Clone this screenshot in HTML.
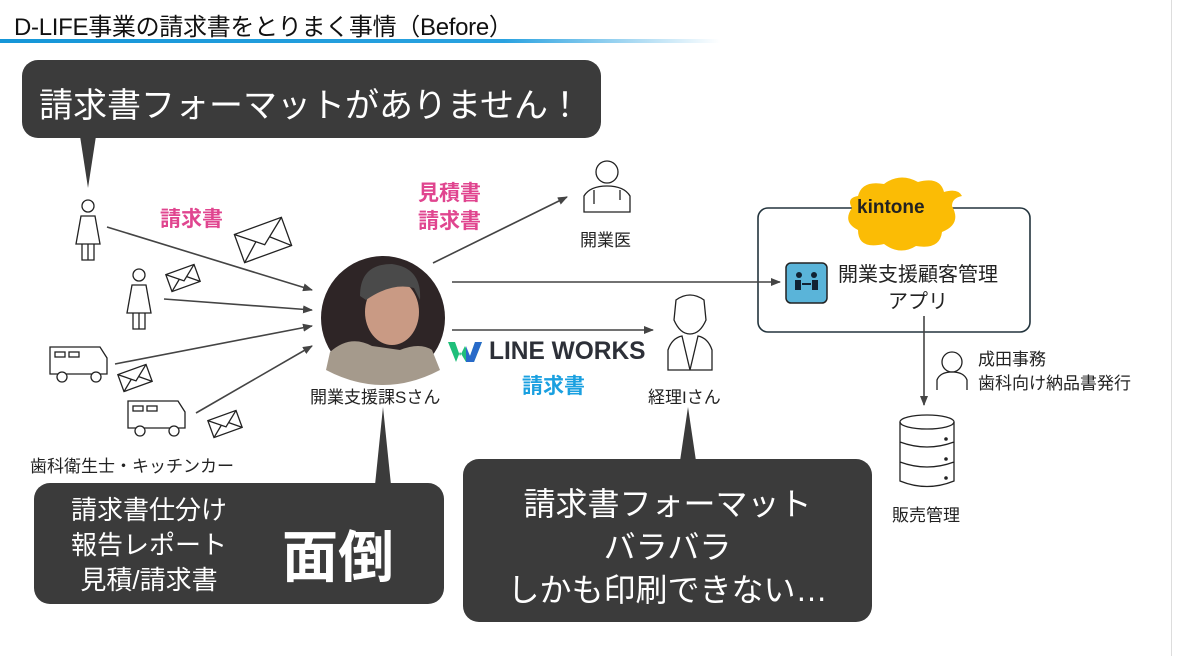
<!DOCTYPE html>
<html><head><meta charset="utf-8"><style>
body{margin:0;width:1178px;height:656px;background:#fff;overflow:hidden;position:relative;font-family:"Liberation Sans","Noto Sans CJK JP",sans-serif;color:#222}
.a{position:absolute;white-space:nowrap}
.box{position:absolute;background:#3b3b3b;border-radius:16px;color:#fff}
</style></head><body>
<div class="a" style="left:14px;top:7px;font-size:24px;color:#111;letter-spacing:-0.3px">D-LIFE事業の請求書をとりまく事情（Before）</div>
<div class="a" style="left:0;top:39px;width:720px;height:4px;background:linear-gradient(90deg,#1596d8 0%,#2aa2e0 70%,rgba(40,160,224,0) 100%)"></div>
<div class="a" style="left:1171px;top:0;width:1px;height:656px;background:#ddd"></div>

<svg class="a" style="left:0;top:0" width="1178" height="656">
<defs><marker id="ar" markerWidth="10" markerHeight="8" refX="9" refY="4" orient="auto" markerUnits="userSpaceOnUse"><path d="M0,0L10,4L0,8z" fill="#444"/></marker></defs>
<!-- kintone box -->
<rect x="758" y="208" width="272" height="124" rx="10" fill="#fff" stroke="#23343d" stroke-width="1.6"/>
<path d="M858,196Q862,180 884,184Q900,172 918,182Q940,176 944,192Q958,188 962,196Q952,198 952,206Q962,224 942,232Q940,250 916,246Q900,256 884,244Q858,250 858,230Q842,222 852,208Q846,198 858,196z" fill="#fbbc05"/>
<rect x="786" y="263" width="41" height="40" rx="5" fill="#5ab4d9" stroke="#222" stroke-width="1.5"/>
<g fill="#123"><circle cx="799" cy="275" r="3"/><circle cx="814" cy="275" r="3"/><rect x="795" y="280" width="6" height="10"/><rect x="812" y="280" width="6" height="10"/><rect x="802" y="283" width="9" height="2"/></g>
<g stroke="#444" stroke-width="1.6" fill="none" marker-end="url(#ar)">
<line x1="107" y1="227" x2="312" y2="290"/>
<line x1="164" y1="299" x2="312" y2="310"/>
<line x1="115" y1="364" x2="312" y2="326"/>
<line x1="196" y1="413" x2="312" y2="346"/>
<line x1="433" y1="263" x2="567" y2="197"/>
<line x1="452" y1="282" x2="780" y2="282"/>
<line x1="452" y1="330" x2="653" y2="330"/>
<line x1="924" y1="316" x2="924" y2="405"/>
</g>
<!-- tails -->
<path d="M80,136L96,136L88,188z" fill="#3b3b3b"/>
<path d="M375,485L391,485L383,407z" fill="#3b3b3b"/>
<path d="M680,461L696,461L688,407z" fill="#3b3b3b"/>
<g stroke="#222" stroke-width="1.3" fill="none">
<circle cx="88" cy="206" r="6"/><path d="M81,216L95,216L100,244L76,244z"/><path d="M82,244V260H94V244M88,244V260"/>
<circle cx="139" cy="275" r="6"/><path d="M132,285L146,285L151,313L127,313z"/><path d="M133,313V329H145V313M139,313V329"/>
<path d="M50,347H100L107,358V374H50z"/><rect x="55" y="352" width="10" height="5"/><rect x="69" y="352" width="10" height="5"/><circle cx="62" cy="377" r="5" fill="#fff"/><circle cx="96" cy="377" r="5" fill="#fff"/>
<path d="M128,401H178L185,412V428H128z"/><rect x="133" y="406" width="10" height="5"/><rect x="147" y="406" width="10" height="5"/><circle cx="140" cy="431" r="5" fill="#fff"/><circle cx="174" cy="431" r="5" fill="#fff"/>
<g transform="translate(263,240) rotate(-20)"><rect x="-25" y="-15" width="50" height="30"/><path d="M-25,-15L0,5L25,-15M-25,15L-7,-1M25,15L7,-1"/></g>
<g transform="translate(183,278) rotate(-20)"><rect x="-15" y="-9" width="30" height="18"/><path d="M-15,-9L0,3L15,-9M-15,9L-4,0M15,9L4,0"/></g>
<g transform="translate(135,378) rotate(-20)"><rect x="-15" y="-9" width="30" height="18"/><path d="M-15,-9L0,3L15,-9M-15,9L-4,0M15,9L4,0"/></g>
<g transform="translate(225,424) rotate(-20)"><rect x="-15" y="-9" width="30" height="18"/><path d="M-15,-9L0,3L15,-9M-15,9L-4,0M15,9L4,0"/></g>
<circle cx="607" cy="172" r="11"/><path d="M584,212V196Q590,186 607,186Q624,186 630,196V212z"/><path d="M594,190V204M620,190V200"/>
<path d="M676,300Q690,290 704,300L706,320Q700,334 690,334Q680,334 674,320z"/><path d="M668,370V350Q672,338 682,336L690,370L698,336Q708,338 712,350V370z"/>
<circle cx="952" cy="362" r="10"/><path d="M937,390V380Q940,372 952,372Q964,372 967,380V390"/>
<ellipse cx="927" cy="422" rx="27" ry="7"/><path d="M900,422V481Q927,492 954,481V422M900,442Q927,452 954,442M900,462Q927,472 954,462"/>
</g>
<circle cx="946" cy="439" r="1.8" fill="#222"/><circle cx="946" cy="459" r="1.8" fill="#222"/><circle cx="946" cy="478" r="1.8" fill="#222"/>
<circle cx="383" cy="318" r="62" fill="#2e2526"/>
<ellipse cx="392" cy="312" rx="27" ry="33" fill="#c99a84"/>
<path d="M360,296Q360,264 392,264Q422,268 420,300L414,288Q392,282 366,300z" fill="#4a4a4a"/>
<path d="M330,352Q350,334 372,346L400,350Q420,342 432,350L440,370Q383,400 326,370z" fill="#a59a8c"/>
<path d="M448,342L455,342L460,356L465,346L470,356L475,342L482,342L474,362L466,362L460,352L456,362Z" fill="#1fbf7a"/>
<path d="M466,346L470,356L475,342L482,342L474,362L466,362z" fill="#2a5bd7" opacity="0.85"/>
</svg>

<div class="a" style="left:489px;top:337px;font-size:25px;font-weight:bold;color:#2d3038;transform:scaleX(0.98);transform-origin:left">LINE WORKS</div>
<div class="a" style="left:522px;top:370px;font-size:21px;font-weight:bold;color:#1aa0e0">請求書</div>
<div class="a" style="left:160px;top:203px;font-size:21px;font-weight:bold;color:#e0458f">請求書</div>
<div class="a" style="left:418px;top:180px;font-size:21px;font-weight:bold;color:#e0458f;line-height:28px">見積書<br>請求書</div>
<div class="a" style="left:580px;top:226px;font-size:17px">開業医</div>
<div class="a" style="left:310px;top:383px;font-size:17px">開業支援課Sさん</div>
<div class="a" style="left:648px;top:383px;font-size:17px">経理Iさん</div>
<div class="a" style="left:30px;top:452px;font-size:17px">歯科衛生士・キッチンカー</div>
<div class="a" style="left:857px;top:197px;font-size:19px;font-weight:bold;color:#222">kintone</div>
<div class="a" style="left:838px;top:262px;font-size:20px;line-height:27px;text-align:center">開業支援顧客管理<br>アプリ</div>
<div class="a" style="left:978px;top:348px;font-size:17px;line-height:24px">成田事務<br>歯科向け納品書発行</div>
<div class="a" style="left:892px;top:501px;font-size:17px">販売管理</div>

<div class="box" style="left:22px;top:60px;width:579px;height:78px"><div class="a" style="left:17px;top:18px;font-size:34px">請求書フォーマットがありません！</div></div>
<div class="box" style="left:34px;top:483px;width:410px;height:121px">
<div class="a" style="left:0;width:230px;top:10px;font-size:26px;line-height:35px;text-align:center">請求書仕分け<br>報告レポート<br>見積/請求書</div>
<div class="a" style="left:248px;top:30px;font-size:56px;font-weight:bold">面倒</div></div>
<div class="box" style="left:463px;top:459px;width:409px;height:163px">
<div class="a" style="left:0;width:409px;top:24px;font-size:32px;line-height:43px;text-align:center">請求書フォーマット<br>バラバラ<br>しかも印刷できない…</div></div>
</body></html>
